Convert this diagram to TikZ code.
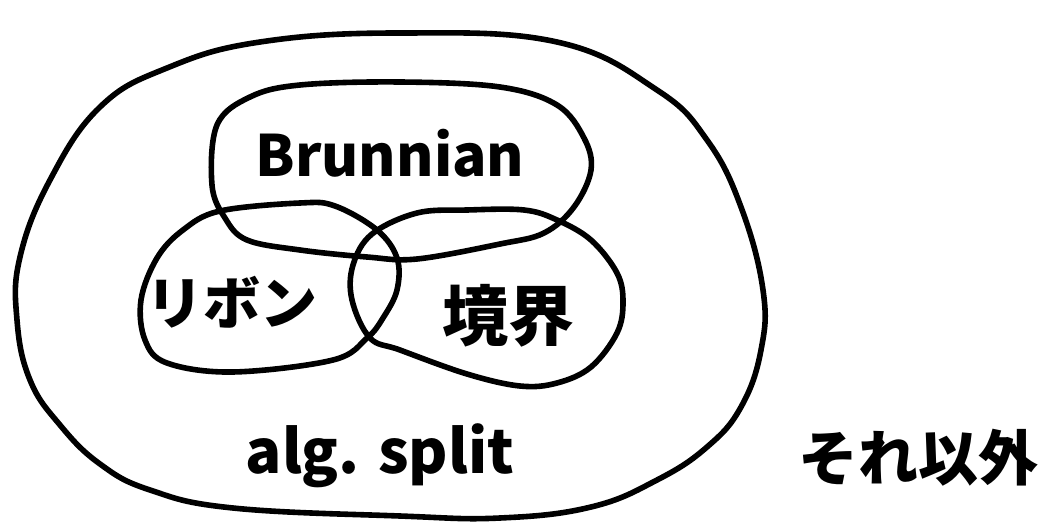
\documentclass[tikz,border=0pt]{standalone}
\usepackage{fontspec}
\setmainfont{Noto Sans CJK JP}
\newfontfamily\jpfont{Noto Sans CJK JP}
\begin{document}
\begin{tikzpicture}[x=1pt,y=-1pt,
  pen/.style={line width=5.6pt,line cap=round,line join=round,black},
  lbl/.style={inner sep=0pt}]
\useasboundingbox (0,0) rectangle (1049,524);
% outer region
\draw[pen] plot[smooth cycle,tension=0.7] coordinates{
 (400,33) (557,42) (657,90) (707,140) (741,207) (763,290) (761,350)
 (741,407) (707,447) (657,480) (591,507) (500,518) (400,516)
 (233,508) (150,490) (100,464) (60,425) (30,380) (17,320) (20,257)
 (50,180) (100,107) (167,68) (260,42)};
% Brunnian
\draw[pen] plot[smooth cycle,tension=0.6] coordinates{
 (300,85) (400,82) (500,87) (557,105) (584,138) (591,170) (574,207)
 (544,233) (500,244) (417,259) (367,257) (300,250) (247,240) (225,218)
 (212,185) (217,125) (250,97)};
% ribbon
\draw[pen] plot[smooth cycle,tension=0.6] coordinates{
 (220,211) (300,203) (335,206) (377,230) (397,258) (397,290) (383,318)
 (367,338) (333,360) (233,372) (167,363) (145,340) (141,300) (157,258)
 (183,230)};
% boundary
\draw[pen] plot[smooth cycle,tension=0.6] coordinates{
 (417,213) (467,210) (524,210) (557,220) (591,240) (617,273) (623,302)
 (617,333) (591,367) (557,383) (520,386) (467,374) (400,350) (370,338)
 (352,300) (353,265) (372,234)};
\node[lbl,font=\jpfont\bfseries\fontsize{57}{57}\selectfont] (brun) at (390,153) {Brunnian};
\node[lbl,font=\jpfont\bfseries\fontsize{57}{57}\selectfont] (ribbon) at (232,302) {リボン};
\node[lbl,font=\jpfont\bfseries\fontsize{66}{66}\selectfont] (bdry) at (508,316) {境界};
\node[lbl,font=\jpfont\bfseries\fontsize{60}{60}\selectfont] (alg) at (380,456) {alg. split};
\node[lbl,font=\jpfont\bfseries\fontsize{60}{60}\selectfont] (other) at (918,458) {それ以外};
\end{tikzpicture}
\end{document}
